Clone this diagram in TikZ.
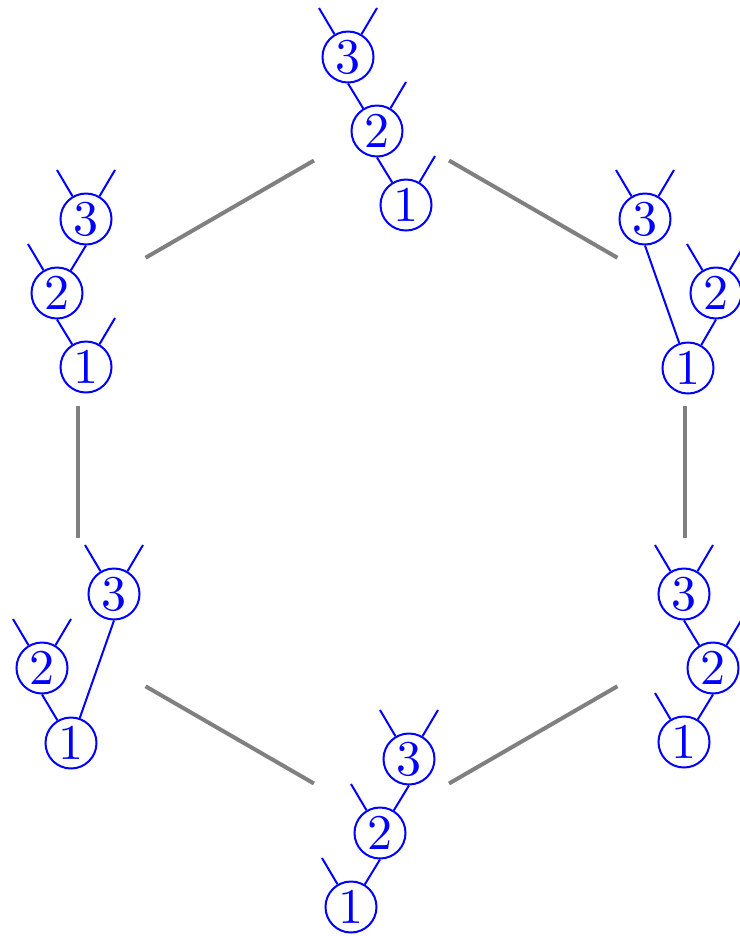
\documentclass[tikz,border=0pt]{standalone}
\usetikzlibrary{calc}
\tikzset{
  vx/.style={circle,draw=blue,text=blue,line width=0.4pt,minimum size=10.2pt,inner sep=0pt},
  lf/.style={blue,line width=0.4pt},
  hx/.style={gray,thick}
}
\begin{document}
\begin{tikzpicture}[x=0.2pt,y=-0.2pt]
  \useasboundingbox (0,0) rectangle (740,936);
  % hexagon corners
  \coordinate (h1) at (381.5,121.5); \coordinate (h2) at (78,296.75);
  \coordinate (h3) at (78,647.25);   \coordinate (h4) at (381.5,822.5);
  \coordinate (h5) at (685,647.25);  \coordinate (h6) at (685,296.75);
  \draw[hx,shorten <=15.6pt,shorten >=15.6pt] (h1) -- (h2);
  \draw[hx,shorten <=21.8pt,shorten >=21.8pt] (h2) -- (h3);
  \draw[hx,shorten <=15.6pt,shorten >=15.6pt] (h3) -- (h4);
  \draw[hx,shorten <=15.6pt,shorten >=15.6pt] (h4) -- (h5);
  \draw[hx,shorten <=21.8pt,shorten >=21.8pt] (h5) -- (h6);
  \draw[hx,shorten <=15.6pt,shorten >=15.6pt] (h6) -- (h1);
  % top
  \node[vx] (t1) at (406,205) {1}; \node[vx] (t2) at (377,131) {2}; \node[vx] (t3) at (348,57) {3};
  \draw[lf] (t2.south) -- (t1); \draw[lf] (t3.south) -- (t2);
  \draw[lf] (t1) -- ++(29,-49); \draw[lf] (t2) -- ++(29,-49);
  \draw[lf] (t3) -- ++(-29,-49); \draw[lf] (t3) -- ++(29,-49);
  % upper left
  \node[vx] (l1) at (86,367) {1}; \node[vx] (l2) at (57,293) {2}; \node[vx] (l3) at (86,219) {3};
  \draw[lf] (l2.south) -- (l1); \draw[lf] (l3.south) -- (l2);
  \draw[lf] (l1) -- ++(29,-49); \draw[lf] (l2) -- ++(-29,-49);
  \draw[lf] (l3) -- ++(-29,-49); \draw[lf] (l3) -- ++(29,-49);
  % upper right
  \node[vx] (r1) at (688,368) {1}; \node[vx] (r2) at (716,293) {2}; \node[vx] (r3) at (645,219) {3};
  \draw[lf] (r3.south) -- (r1); \draw[lf] (r2.south) -- (r1);
  \draw[lf] (r2) -- ++(-29,-49); \draw[lf] (r2) -- ++(29,-49);
  \draw[lf] (r3) -- ++(-29,-49); \draw[lf] (r3) -- ++(29,-49);
  % lower left
  \node[vx] (bl1) at (71,743) {1}; \node[vx] (bl2) at (42,668) {2}; \node[vx] (bl3) at (114,594) {3};
  \draw[lf] (bl2.south) -- (bl1); \draw[lf] (bl3.south) -- (bl1);
  \draw[lf] (bl2) -- ++(-29,-49); \draw[lf] (bl2) -- ++(29,-49);
  \draw[lf] (bl3) -- ++(-29,-49); \draw[lf] (bl3) -- ++(29,-49);
  % lower right
  \node[vx] (br1) at (684,742) {1}; \node[vx] (br2) at (713,668) {2}; \node[vx] (br3) at (684,594) {3};
  \draw[lf] (br2.south) -- (br1); \draw[lf] (br3.south) -- (br2);
  \draw[lf] (br1) -- ++(-29,-49); \draw[lf] (br2) -- ++(29,-49);
  \draw[lf] (br3) -- ++(-29,-49); \draw[lf] (br3) -- ++(29,-49);
  % bottom
  \node[vx] (b1) at (351,907) {1}; \node[vx] (b2) at (380,833) {2}; \node[vx] (b3) at (409,759) {3};
  \draw[lf] (b2.south) -- (b1); \draw[lf] (b3.south) -- (b2);
  \draw[lf] (b1) -- ++(-29,-49); \draw[lf] (b2) -- ++(-29,-49);
  \draw[lf] (b3) -- ++(-29,-49); \draw[lf] (b3) -- ++(29,-49);
\end{tikzpicture}
\end{document}
